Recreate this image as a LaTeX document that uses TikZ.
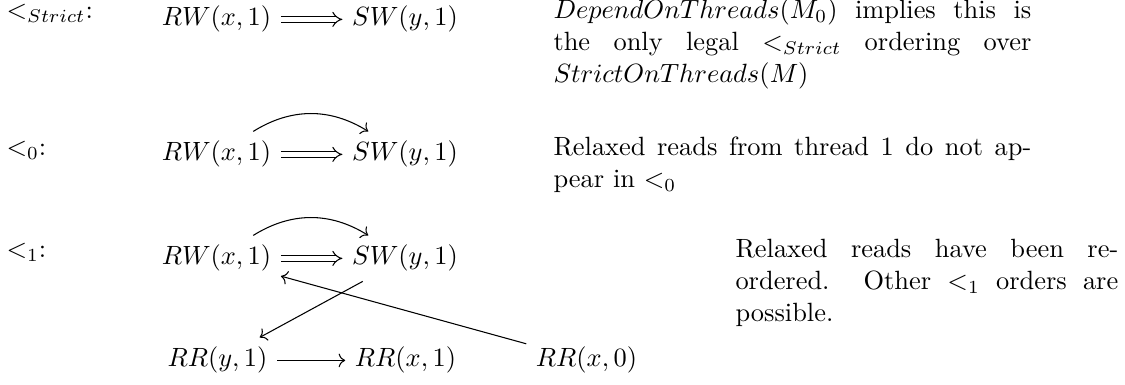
\documentclass[tikz,border=0pt]{standalone}
\usetikzlibrary{arrows.meta}
\begin{document}
\begin{tikzpicture}[x=0.3788pt,y=-0.3788pt,
  mth/.style={inner sep=3.5pt, anchor=base},
  lbl/.style={inner sep=0pt, anchor=base west},
  para/.style={inner sep=0pt, anchor=base west, text width=#1, align=justify},
  sgl/.style={-{Computer Modern Rightarrow}, line width=0.4pt},
  dbl/.style={double, double distance=1.6pt, line width=0.4pt, -{Implies}},
]
\useasboundingbox (0,0) rectangle (1125,385);
% row 1
\node[lbl] (l1) at (6,19) {$<_{Strict}$:};
\node[mth] (rw1) at (216.5,26) {$RW(x,1)$};
\node[mth] (sw1) at (405,26) {$SW(y,1)$};
\node[para=181pt] (p1) at (553,19) {$DependOnThreads(M_0)$ implies this is\linebreak the only legal $<_{Strict}$ ordering over\linebreak $StrictOnThreads(M)$};
\draw[dbl] (rw1) -- (sw1);
% row 2
\node[lbl] (l2) at (6,156) {$<_0$:};
\node[mth] (rw2) at (216.5,161) {$RW(x,1)$};
\node[mth] (sw2) at (405,161) {$SW(y,1)$};
\node[para=181pt] (p2) at (553,156) {Relaxed reads from thread 1 do not ap-\linebreak pear in $<_0$};
\draw[dbl] (rw2) -- (sw2);
\draw[sgl] (rw2) to[bend left=32] (sw2);
% row 3
\node[lbl] (l3) at (6,258) {$<_1$:};
\node[mth] (rw3) at (216.5,265) {$RW(x,1)$};
\node[mth] (sw3) at (405,265) {$SW(y,1)$};
\node[para=145pt] (p3) at (735,258) {Relaxed reads have been re-\linebreak ordered. Other $<_1$ orders are\linebreak possible.};
\draw[dbl] (rw3) -- (sw3);
\draw[sgl] (rw3) to[bend left=32] (sw3);
% row 4
\node[mth] (rry) at (217.5,367) {$RR(y,1)$};
\node[mth] (rrx1) at (405.5,367) {$RR(x,1)$};
\node[mth] (rrx0) at (586.5,367) {$RR(x,0)$};
\draw[sgl] (rry) -- (rrx1);
\draw[sgl] (sw3) -- (rry);
\draw[sgl] (rrx0) -- (rw3);
\end{tikzpicture}
\end{document}
